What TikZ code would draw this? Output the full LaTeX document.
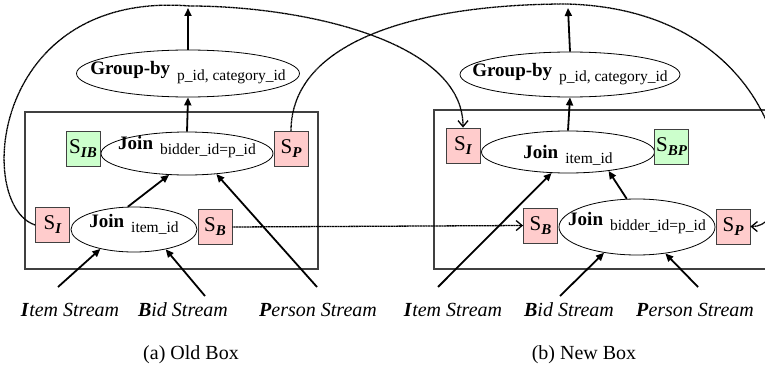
\documentclass[tikz,border=0pt]{standalone}
\usepackage{fontspec}
\setmainfont{Liberation Serif}
\usetikzlibrary{arrows.meta,shapes.geometric}
\definecolor{stPink}{HTML}{FFCCCC}
\definecolor{stGreen}{HTML}{CCFFCC}
\definecolor{boxLine}{HTML}{404040}

% operator name with its key as a lowered index; [raise] moves the baseline
\newcommand{\opnode}[3][0pt]{\raisebox{#1}[0pt][0pt]{\makebox[0pt]{{\fontsize{19}{20}\selectfont\bfseries #2}\hspace{7pt}\raisebox{-5pt}{\fontsize{15.5}{16}\selectfont #3}}}}
\newcommand{\sname}[1]{S\raisebox{-4pt}{\fontsize{15}{15}\selectfont\bfseries\itshape #1}}
\newcommand{\stream}[2]{\textbf{\textit{#1}}\textit{#2}}

\begin{document}
\begin{tikzpicture}[x=1pt, y=-1pt,
  op/.style={draw, ellipse, line width=0.8pt, inner sep=0pt},
  stbox/.style={draw=boxLine, line width=0.8pt, minimum width=34pt, minimum height=35pt, inner sep=0pt, font=\fontsize{21}{21}\selectfont},
  boxframe/.style={draw=boxLine, line width=1.4pt},
  feed/.style={-{Triangle[length=8pt,width=7pt]}, line width=1.8pt},
  ship/.style={-{Straight Barb[length=6pt,width=10pt]}, dash pattern=on 1.2pt off 0.4pt, line width=1.3pt},
  lbl/.style={font=\fontsize{20}{22}\selectfont}
]
  \useasboundingbox (0,0) rectangle (765,369);
  \clip (0,0) rectangle (765,369);

  % old box
  \draw[boxframe] (25,112) rectangle (318,269);
  \node[op, minimum width=223pt, minimum height=47pt] (gbA) at (188,73.5) {\opnode[-1.5pt]{Group-by}{p\_id, category\_id}};
  \node[op, minimum width=172pt, minimum height=43pt] (jbA) at (187,153.5) {\opnode[4.5pt]{Join}{bidder\_id=p\_id}};
  \node[op, minimum width=126pt, minimum height=45pt] (jiA) at (134,229.5) {\opnode[2pt]{Join}{item\_id}};
  \node[stbox, fill=stGreen] (sIB) at (83,148.5) {\sname{IB}};
  \node[stbox, fill=stPink] (sPa) at (291,149) {\sname{P}};
  \node[stbox, fill=stPink] (sIa) at (52.5,225) {\sname{I}};
  \node[stbox, fill=stPink] (sBa) at (215,227) {\sname{B}};
  \node[lbl] (itemA) at (70,310) {\stream{I}{tem Stream}};
  \node[lbl] (bidA) at (183,310) {\stream{B}{id Stream}};
  \node[lbl] (personA) at (318,310) {\stream{P}{erson Stream}};
  \node[lbl] (capA) at (191,355) {(a) Old Box};
  \coordinate (outA) at (188,8);
  \coordinate (itemTailA) at (58,287);
  \coordinate (bidTailA) at (205,296);
  \coordinate (personTailA) at (317,287);

  \draw[feed] (gbA.north) -- (outA);
  \draw[feed] (jbA.north) -- (gbA.south);
  \draw[feed] (jiA.105) -- (jbA.230);
  \draw[feed] (personTailA) -- (jbA.-35);
  \draw[feed] (itemTailA) -- (jiA.210);
  \draw[feed] (bidTailA) -- (jiA.-32);

  % new box
  \draw[boxframe] (434,110) rectangle (790,269);
  \node[op, minimum width=220pt, minimum height=45pt] (gbB) at (570,74.5) {\opnode[-1.5pt]{Group-by}{p\_id, category\_id}};
  \node[op, minimum width=173pt, minimum height=42pt] (jiB) at (568,152) {\opnode[-6pt]{Join}{item\_id}};
  \node[op, minimum width=156pt, minimum height=56pt] (jbB) at (637,227) {\opnode[2pt]{Join}{bidder\_id=p\_id}};
  \node[stbox, fill=stPink] (sIb) at (463,145.5) {\sname{I}};
  \node[stbox, fill=stGreen] (sBP) at (671.5,146.5) {\sname{BP}};
  \node[stbox, fill=stPink] (sBb) at (540.5,225.5) {\sname{B}};
  \node[stbox, fill=stPink] (sPb) at (733,226.5) {\sname{P}};
  \node[lbl] (itemB) at (453,310) {\stream{I}{tem Stream}};
  \node[lbl] (bidB) at (569,310) {\stream{B}{id Stream}};
  \node[lbl] (personB) at (695,310) {\stream{P}{erson Stream}};
  \node[lbl] (capB) at (584,355) {(b) New Box};
  \coordinate (outB) at (568,8);
  \coordinate (itemTailB) at (438,287);
  \coordinate (bidTailB) at (560,296);
  \coordinate (personTailB) at (698,287);

  \draw[feed] (gbB.north) -- (outB);
  \draw[feed] (jiB.north) -- (gbB.south);
  \draw[feed] (jbB.110) -- (jiB.-25);
  \draw[feed] (itemTailB) -- (jiB.232);
  \draw[feed] (bidTailB) -- (jbB.218);
  \draw[feed] (personTailB) -- (jbB.-43);

  % states moved from the old box to the new one
  \draw[ship] (sIa.west) .. controls (-25,205) and (-10,-10) .. (190,6) .. controls (300,6) and (463,40) .. (sIb.north);
  \draw[ship] (sPa.north) .. controls (291,40) and (420,4) .. (567,4) .. controls (790,10) and (810,227) .. (sPb.east);
  \draw[ship] (sBa.east) -- (sBb.west);
\end{tikzpicture}
\end{document}
